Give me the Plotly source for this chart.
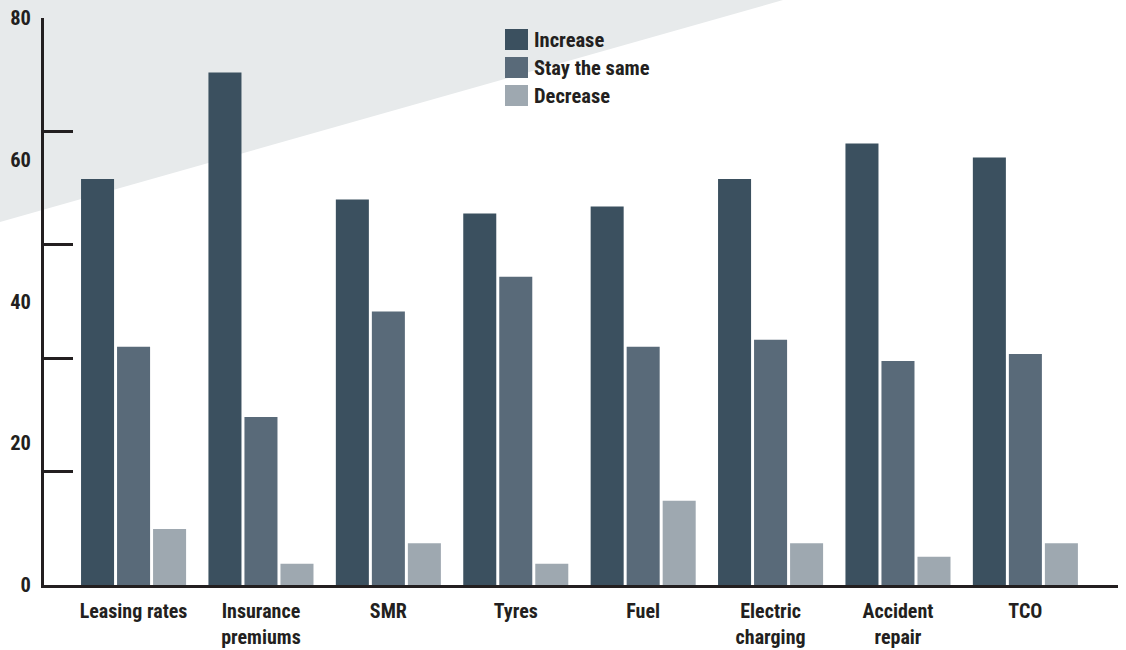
import plotly.graph_objects as go

# Survey results: expected change in fleet costs (%)
categories = ["Leasing rates", "Insurance<br>premiums", "SMR", "Tyres", "Fuel",
              "Electric<br>charging", "Accident<br>repair", "TCO"]
increase = [57.3, 72.3, 54.4, 52.4, 53.4, 57.3, 62.3, 60.3]
stay_same = [33.6, 23.7, 38.6, 43.5, 33.6, 34.6, 31.6, 32.6]
decrease = [7.9, 3.0, 5.9, 3.0, 11.9, 5.9, 4.0, 5.9]

series_names = ["Increase", "Stay the same", "Decrease"]
series_values = [increase, stay_same, decrease]
series_colors = ["#3b505f", "#596a79", "#9ea8b0"]

y_tick_labels = [0, 20, 40, 60, 80]
y_tick_marks = [0, 16, 32, 48, 64, 80]

W, H = 1126, 650
M_L, M_R, M_T, M_B = 44, 8, 18, 65
PLOT_W = W - M_L - M_R
PLOT_H = H - M_T - M_B

FONT = "Roboto Condensed, Roboto, sans-serif"
INK = "#231f20"
TICK_FONT = dict(family=FONT, size=20.5, color=INK, weight="bold")
CAT_FONT = dict(family=FONT, size=20, color=INK, weight="bold")


def px_x(px):
    return (px - M_L) / PLOT_W


def px_y(py):
    return (H - M_B - py) / PLOT_H


fig = go.Figure()
for name, vals, col in zip(series_names, series_values, series_colors):
    fig.add_trace(go.Bar(x=categories, y=vals, name=name, marker_color=col,
                         marker_line_width=0, showlegend=False))

# invisible trace carrying the decorative tick marks on an overlaid axis
fig.add_trace(go.Scatter(x=[categories[0]], y=[0], yaxis="y2", mode="markers",
                         marker_opacity=0, showlegend=False, hoverinfo="skip"))

shapes = [
    # light grey diagonal backdrop in the upper left
    dict(type="path", xref="paper", yref="paper", layer="below",
         path=f"M {px_x(0)} {px_y(0)} L {px_x(783)} {px_y(0)} L {px_x(0)} {px_y(222)} Z",
         fillcolor="#e7eaeb", line_width=0),
]
annotations = []
for i, (name, col) in enumerate(zip(series_names, series_colors)):
    top = 29 + 28 * i
    shapes.append(dict(type="rect", xref="paper", yref="paper",
                       x0=px_x(505), x1=px_x(528), y0=px_y(top), y1=px_y(top + 21),
                       fillcolor=col, line_width=0))
    annotations.append(dict(xref="paper", yref="paper", x=px_x(532), y=px_y(top + 10.5),
                            text=name, showarrow=False, xanchor="left",
                            yanchor="middle", font=TICK_FONT))

fig.update_layout(
    template="none",
    width=W, height=H,
    margin=dict(l=M_L, r=M_R, t=M_T, b=M_B, autoexpand=False),
    paper_bgcolor="white", plot_bgcolor="rgba(0,0,0,0)",
    barmode="group", bargap=0.152, bargroupgap=0.083,
    font=dict(family=FONT, size=20.5, color=INK),
    shapes=shapes, annotations=annotations,
    xaxis=dict(range=[-0.703, 7.727], showgrid=False, zeroline=False, automargin=False,
               showline=True, linecolor=INK, linewidth=3, ticks="",
               tickfont=CAT_FONT, ticklabelstandoff=6),
    yaxis=dict(range=[0, 80], tickvals=y_tick_labels, showgrid=False, zeroline=False,
               automargin=False, showline=True, linecolor=INK, linewidth=3, ticks="",
               tickfont=TICK_FONT, ticklabelstandoff=6),
    yaxis2=dict(range=[0, 80], overlaying="y", side="left", tickvals=y_tick_marks,
                ticks="inside", ticklen=29, tickwidth=3, tickcolor=INK, automargin=False,
                showticklabels=False, showgrid=False, zeroline=False, showline=False),
)

fig.write_html("out.html")
